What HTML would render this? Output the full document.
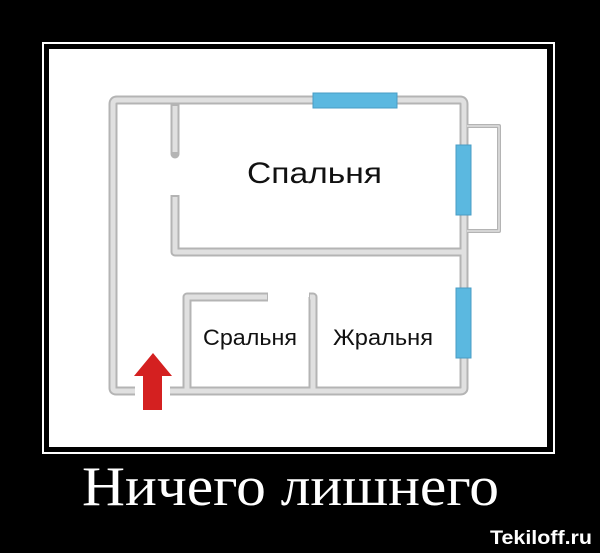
<!DOCTYPE html>
<html><head><meta charset="utf-8"><style>
html,body{margin:0;padding:0;background:#000;width:600px;height:553px;overflow:hidden}
</style></head><body>
<svg width="600" height="553" viewBox="0 0 600 553" xmlns="http://www.w3.org/2000/svg">
<rect width="600" height="553" fill="#000"/>
<rect x="43" y="43" width="511" height="410" fill="none" stroke="#fff" stroke-width="2"/>
<rect x="49" y="49" width="498" height="398" fill="#fff"/>
<g fill="none" stroke="#b4b4b4" stroke-width="9" stroke-linejoin="round">
<path d="M135 391 L116 391 Q113 391 113 388 L113 104 Q113 100 117 100 L460 100 Q464 100 464 104 L464 388 Q464 391 460 391 L170 391"/>
<path d="M175 104 L175 154" stroke-linecap="round"/>
<path d="M175 195 L175 252 L462 252"/>
<path d="M187 391 L187 297 L268 297"/>
<path d="M309 297 L313 297 L313 391"/>
<path d="M467 126 L499 126 L499 231 L467 231" stroke-width="4"/>
</g>
<g fill="none" stroke="#e0e0e0" stroke-width="5" stroke-linejoin="round">
<path d="M135 391 L116 391 Q113 391 113 388 L113 104 Q113 100 117 100 L460 100 Q464 100 464 104 L464 388 Q464 391 460 391 L170 391"/>
<path d="M175 106 L175 152"/>
<path d="M175 197 L175 252 L462 252"/>
<path d="M187 391 L187 297 L267 297"/>
<path d="M310 297 L313 297 L313 391"/>
<path d="M467 126 L499 126 L499 231 L467 231" stroke-width="1.5"/>
</g>
<g fill="#5bb8e0" stroke="#4a9cc4" stroke-width="1">
<rect x="313" y="93" width="84" height="15"/>
<rect x="456" y="145" width="15" height="70"/>
<rect x="456" y="288" width="15" height="70"/>
</g>
<polygon points="153,353 134,376 143,376 143,410 162,410 162,376 172,376" fill="#d42020"/>
<g font-family="Liberation Sans, sans-serif" fill="#111">
<text x="247" y="183" font-size="30" textLength="135" lengthAdjust="spacingAndGlyphs">Спальня</text>
<text x="203" y="345" font-size="22" textLength="94" lengthAdjust="spacingAndGlyphs">Сральня</text>
<text x="333" y="345" font-size="22" textLength="100" lengthAdjust="spacingAndGlyphs">Жральня</text>
</g>
<text x="82" y="505" font-family="Liberation Serif, serif" font-size="56" fill="#fff" textLength="417" lengthAdjust="spacingAndGlyphs">Ничего лишнего</text>
<text x="490" y="544" font-family="Liberation Sans, sans-serif" font-weight="bold" font-size="19" fill="#fff" textLength="102" lengthAdjust="spacingAndGlyphs">Tekiloff.ru</text>
</svg>
</body></html>
